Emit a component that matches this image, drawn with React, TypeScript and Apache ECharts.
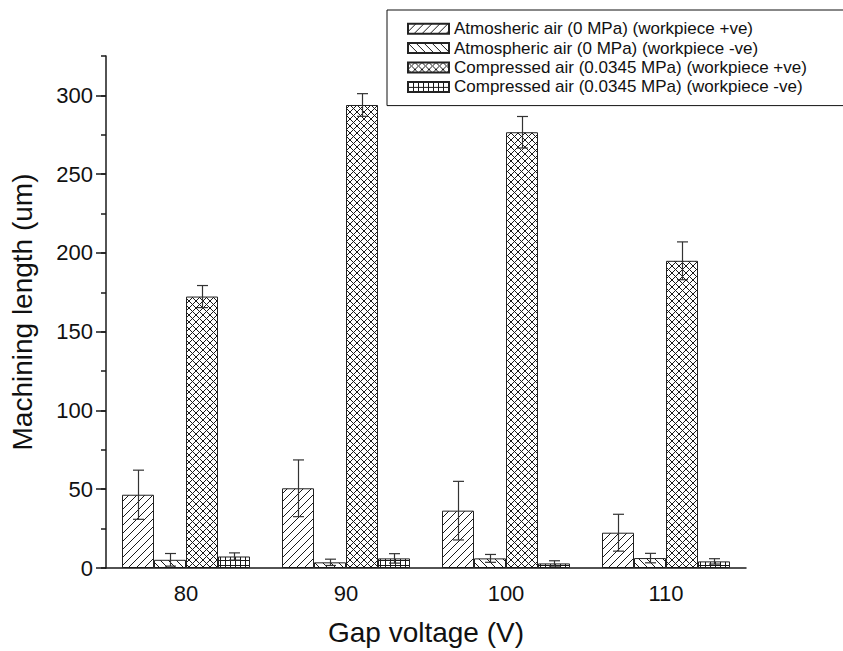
import React, { useEffect, useRef } from "react";
import * as echarts from "echarts";

const categories = ["80", "90", "100", "110"];
const seriesNames = [
  "Atmosheric air (0 MPa) (workpiece +ve)",
  "Atmospheric air (0 MPa) (workpiece -ve)",
  "Compressed air (0.0345 MPa) (workpiece +ve)",
  "Compressed air (0.0345 MPa) (workpiece -ve)",
];
const atmPos = [46.5, 50.6, 36.4, 22.4];
const atmPosErr = [15.6, 18.0, 18.6, 11.7];
const atmNeg = [5.2, 3.6, 6.1, 6.3];
const atmNegErr = [4.0, 2.0, 2.5, 3.0];
const compPos = [172.3, 293.9, 276.6, 195.0];
const compPosErr = [7.0, 7.2, 10.0, 12.0];
const compNeg = [7.3, 6.1, 2.9, 4.2];
const compNegErr = [2.3, 3.0, 1.7, 1.7];
const yMajorTicks = [0, 50, 100, 150, 200, 250, 300];

const values = [atmPos, atmNeg, compPos, compNeg];
const errors = [atmPosErr, atmNegErr, compPosErr, compNegErr];

const INK = "#1a1a1a";

function makeTile(kind: string) {
  const s = kind === "grid" ? 5 : kind === "cross" ? 7 : 8;
  const c = document.createElement("canvas");
  c.width = s;
  c.height = s;
  const ctx = c.getContext("2d")!;
  ctx.fillStyle = "#ffffff";
  ctx.fillRect(0, 0, s, s);
  ctx.strokeStyle = INK;
  ctx.lineWidth = 1;
  const fwd = () => {
    ctx.beginPath();
    ctx.moveTo(-1, s + 1);
    ctx.lineTo(s + 1, -1);
    ctx.moveTo(-1, 1);
    ctx.lineTo(1, -1);
    ctx.moveTo(s - 1, s + 1);
    ctx.lineTo(s + 1, s - 1);
    ctx.stroke();
  };
  const back = () => {
    ctx.beginPath();
    ctx.moveTo(-1, -1);
    ctx.lineTo(s + 1, s + 1);
    ctx.moveTo(s - 1, -1);
    ctx.lineTo(s + 1, 1);
    ctx.moveTo(-1, s - 1);
    ctx.lineTo(1, s + 1);
    ctx.stroke();
  };
  if (kind === "fwd") fwd();
  else if (kind === "back") back();
  else if (kind === "cross") {
    fwd();
    back();
  } else {
    ctx.beginPath();
    ctx.moveTo(0, 0.5);
    ctx.lineTo(s, 0.5);
    ctx.moveTo(0.5, 0);
    ctx.lineTo(0.5, s);
    ctx.stroke();
  }
  return { image: c as any, repeat: "repeat", imageWidth: s, imageHeight: s } as any;
}

export default function App() {
  const ref = useRef<HTMLDivElement>(null);
  useEffect(() => {
    if (!ref.current) return;
    const chart = echarts.init(ref.current, null, { renderer: "svg" });
    const kinds = ["fwd", "back", "cross", "grid"];
    const barSeries = seriesNames.map((name, i) => ({
      name,
      type: "bar",
      data: values[i],
      barWidth: "20%",
      barGap: "0%",
      itemStyle: {
        color: makeTile(kinds[i]),
        borderColor: "#222",
        borderWidth: 1,
      },
      emphasis: { disabled: true },
      z: 2,
    }));
    const errData: number[][] = [];
    values.forEach((arr, s) => {
      arr.forEach((v, c) => {
        errData.push([c, v - errors[s][c], v + errors[s][c], s]);
      });
    });
    const errSeries = {
      type: "custom",
      name: "err",
      data: errData,
      z: 5,
      renderItem: (params: any, api: any) => {
        const c = api.value(0);
        const lo = api.value(1);
        const hi = api.value(2);
        const s = api.value(3);
        const band = api.size([1, 0])[0];
        const bw = band * 0.2;
        const base = api.coord([c, 0]);
        const x = Math.round(base[0] + (s - 1.5) * bw) + 0.5;
        const yLo = api.coord([c, Math.max(lo, 0)])[1];
        const yHi = api.coord([c, hi])[1];
        const hw = 5.5;
        const style = { stroke: "#333", lineWidth: 1.2 };
        return {
          type: "group",
          children: [
            { type: "line", shape: { x1: x, y1: yLo, x2: x, y2: yHi }, style },
            { type: "line", shape: { x1: x - hw, y1: yHi, x2: x + hw, y2: yHi }, style },
            { type: "line", shape: { x1: x - hw, y1: yLo, x2: x + hw, y2: yLo }, style },
          ],
        };
      },
    };
    const font = "Liberation Sans, Arial, sans-serif";
    chart.setOption({
      animation: false,
      textStyle: { fontFamily: font },
      grid: { left: 103, right: 97, top: 56, bottom: 77, containLabel: false },
      legend: {
        data: seriesNames,
        orient: "vertical",
        left: 387,
        top: 10,
        icon: "rect",
        itemWidth: 41,
        itemHeight: 10,
        itemGap: 0,
        padding: [9, 60, 9, 20],
        borderColor: "#111",
        borderWidth: 1,
        selectedMode: false,
        textStyle: { fontSize: 17, color: "#111", fontFamily: font, lineHeight: 19.4 },
      },
      xAxis: [
        {
          type: "category",
          data: categories,
          boundaryGap: true,
          axisLine: { lineStyle: { color: INK, width: 1.5 } },
          axisTick: { alignWithLabel: true, length: 11, lineStyle: { color: INK, width: 1.5 } },
          axisLabel: { fontSize: 22, color: "#111", margin: 14, fontFamily: font },
          name: "Gap voltage (V)",
          nameLocation: "middle",
          nameGap: 50,
          nameTextStyle: { fontSize: 28, color: "#111", fontFamily: font },
          z: 10,
        },
        {
          type: "category",
          data: categories,
          position: "bottom",
          boundaryGap: true,
          axisLine: { show: false },
          axisTick: { alignWithLabel: false, length: 6, lineStyle: { color: INK, width: 1.5 } },
          axisLabel: { show: false },
        },
      ],
      yAxis: [
        {
          type: "value",
          min: 0,
          max: 325,
          interval: 25,
          splitLine: { show: false },
          axisLine: { show: true, lineStyle: { color: INK, width: 1.5 } },
          axisTick: { show: true, length: 5, lineStyle: { color: INK, width: 1.5 } },
          axisLabel: {
            fontSize: 22,
            color: "#111",
            margin: 13,
            fontFamily: font,
            formatter: (v: number) => (v % 50 === 0 && v <= 300 ? String(v) : ""),
          },
          name: "Machining length (um)",
          nameLocation: "middle",
          nameGap: 70,
          nameTextStyle: { fontSize: 28, color: "#111", fontFamily: font },
        },
        {
          type: "value",
          position: "left",
          min: 0,
          max: 325,
          interval: 50,
          splitLine: { show: false },
          axisLine: { show: false },
          axisTick: {
            show: true,
            length: 10,
            customValues: yMajorTicks,
            lineStyle: { color: INK, width: 1.5 },
          },
          axisLabel: { show: false },
        },
      ],
      series: [...barSeries, errSeries],
    });
    return () => chart.dispose();
  }, []);
  return <div ref={ref} style={{ width: 843, height: 651, position: "absolute", left: 0, top: 0 }} />;
}
